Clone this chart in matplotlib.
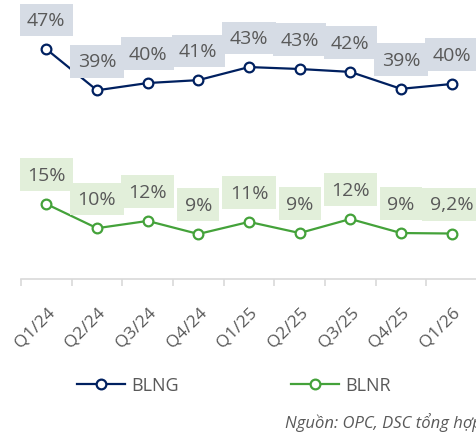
import matplotlib
matplotlib.use("Agg")
import matplotlib.pyplot as plt
import matplotlib.transforms as mtransforms
import numpy as np

quarters = ["Q1/24", "Q2/24", "Q3/24", "Q4/24", "Q1/25", "Q2/25", "Q3/25", "Q4/25", "Q1/26"]
blng = [47.0, 38.5, 40.0, 40.6, 43.3, 42.9, 42.3, 38.8, 39.8]
blng_labels = ["47%", "39%", "40%", "41%", "43%", "43%", "42%", "39%", "40%"]
blnr = [15.0, 10.0, 11.5, 8.8, 11.3, 9.0, 11.9, 9.0, 8.9]
blnr_labels = ["15%", "10%", "12%", "9%", "11%", "9%", "12%", "9%", "9,2%"]

plt.rcParams['font.family'] = ['Open Sans', 'DejaVu Sans']
gray = '#595959'
navy = '#002060'
green = '#44a23a'

fig = plt.figure(figsize=(4.77, 4.35), dpi=100)
ax = fig.add_axes([21/477, (435-280)/435, 1 - 21/477, 270/435])
x = np.arange(len(quarters))

ln1, = ax.plot(x, blng, color=navy, lw=1.6, marker='o', ms=7, mfc='white', mec=navy, mew=1.6, zorder=3, label='BLNG')
ln2, = ax.plot(x, blnr, color=green, lw=1.6, marker='o', ms=7, mfc='white', mec=green, mew=1.6, zorder=3, label='BLNR')

for xi, v, lab in zip(x, blng, blng_labels):
    ax.annotate(lab, (xi, v), xytext=(0, 21), textcoords='offset points', ha='center', va='center',
                fontsize=14, color=gray, zorder=5,
                bbox=dict(boxstyle='square,pad=0.38', fc='#d6dce5', ec='none'))
for xi, v, lab in zip(x, blnr, blnr_labels):
    ax.annotate(lab, (xi, v), xytext=(0, 21), textcoords='offset points', ha='center', va='center',
                fontsize=14, color=gray, zorder=5,
                bbox=dict(boxstyle='square,pad=0.38', fc='#e2efda', ec='none'))

ax.set_xlim(-0.5, len(quarters) - 0.5)
ax.set_ylim(-0.5, 55.3)
ax.set_yticks([])
for s in ['top', 'right', 'left']:
    ax.spines[s].set_visible(False)
ax.spines['bottom'].set_color('#d9d9d9')
ax.spines['bottom'].set_linewidth(1.2)
ax.set_xticks(x)
ax.set_xticklabels(quarters, rotation=45, ha='right', va='center', rotation_mode='anchor',
                   fontsize=12.5, color=gray)
ax.tick_params(axis='x', which='major', length=0, pad=22)
offset = mtransforms.ScaledTranslation(6/100, 0, fig.dpi_scale_trans)
for lbl in ax.get_xticklabels():
    lbl.set_transform(lbl.get_transform() + offset)
ax.set_xticks(np.arange(-0.5, len(quarters), 1), minor=True)
ax.tick_params(axis='x', which='minor', length=5, width=1.2, color='#d9d9d9')

fig.legend(handles=[ln1, ln2], loc='center', bbox_to_anchor=(0.49, (435-386)/435), ncol=2, frameon=False,
           fontsize=13, labelcolor=gray, handlelength=2.67, columnspacing=6.2, handletextpad=0.35)

fig.text(285/477, (435-423)/435, "Nguồn: OPC, DSC tổng hợp", fontsize=12, style='italic', color=gray,
         ha='left', va='center')

fig.savefig('out.png', dpi=100)
